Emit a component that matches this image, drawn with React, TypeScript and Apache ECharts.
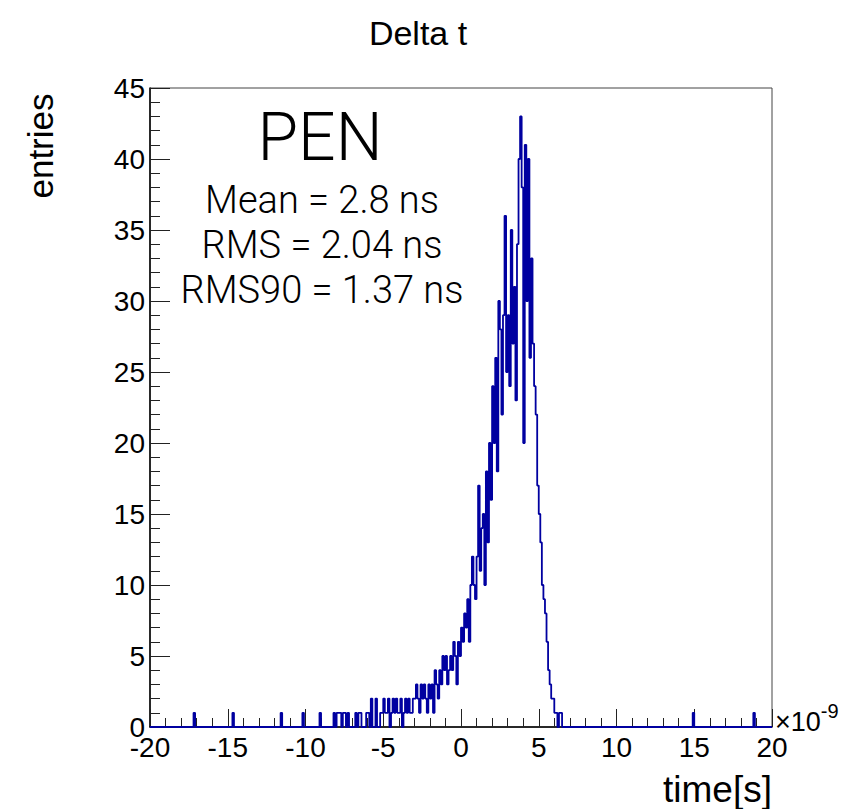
import React, { useEffect, useRef } from "react";
import * as echarts from "echarts";

const histMin = -20;
const histMax = 20;
const binWidth = 0.1;

// Counts per 0.1 ns bin, starting at t = -8.0 ns (x 1e-9 s)
const coreStart = -8.0;
const coreCounts = [
  1, 1, 1, 0, 1, 1, 0, 1, 0, 0,
  0, 0, 1, 0, 1, 1, 0, 0, 0, 1,
  1, 0, 2, 0, 0, 2, 0, 0, 1, 1,
  2, 1, 1, 2, 0, 1, 2, 1, 2, 1,
  1, 2, 0, 1, 2, 1, 2, 1, 1, 2,
  2, 3, 2, 1, 3, 2, 3, 2, 1, 3,
  2, 3, 1, 4, 3, 2, 4, 3, 5, 4,
  5, 3, 4, 5, 4, 6, 5, 3, 6, 5,
  7, 6, 8, 7, 9, 6, 10, 12, 10, 9,
  12, 17, 11, 14, 15, 10, 18, 13, 20, 16,
  24, 20, 26, 18, 30, 28, 22, 29, 36, 25,
  29, 24, 35, 27, 31, 23, 34, 40, 43, 38,
  20, 41, 30, 40, 26, 33, 27, 24, 22, 17,
  15, 13, 10, 9, 8, 6, 4, 3, 2, 2,
  1, 1, 0, 1, 1, 0, 0, 0, 0, 0,
];
// Isolated single entries outside the core region
const outlierTimes = [-17.2, -14.7, -11.6, -10.2, -9.1, -8.2, 14.9, 18.8];

const xTicks = [-20, -15, -10, -5, 0, 5, 10, 15, 20];
const yTicks = [0, 5, 10, 15, 20, 25, 30, 35, 40, 45];

const titleText = "Delta t";
const sampleName = "PEN";
const statLines = ["Mean = 2.8 ns", "RMS = 2.04 ns", "RMS90 = 1.37 ns"];

function buildHist(): number[][] {
  const n = Math.round((histMax - histMin) / binWidth);
  const counts = new Array(n).fill(0);
  const s = Math.round((coreStart - histMin) / binWidth);
  coreCounts.forEach((c, i) => {
    counts[s + i] += c;
  });
  outlierTimes.forEach((t) => {
    counts[Math.round((t - histMin) / binWidth)] += 1;
  });
  const pts: number[][] = [];
  for (let i = 0; i < n; i++) {
    pts.push([+(histMin + i * binWidth).toFixed(2), counts[i]]);
  }
  pts.push([histMax, counts[n - 1]]);
  return pts;
}

export default function App() {
  const ref = useRef<HTMLDivElement>(null);
  useEffect(() => {
    if (!ref.current) return;
    const chart = echarts.init(ref.current, undefined, { renderer: "svg" });
    const font = "'Liberation Sans', Helvetica, Arial, sans-serif";
    const light = "Roboto, 'Liberation Sans', sans-serif";
    chart.setOption({
      animation: false,
      backgroundColor: "#ffffff",
      grid: {
        left: 150,
        right: 92,
        top: 88,
        bottom: 82,
        show: true,
        borderColor: "#444",
        borderWidth: 1,
        backgroundColor: "transparent",
      },
      xAxis: {
        type: "value",
        min: xTicks[0],
        max: xTicks[xTicks.length - 1],
        interval: 5,
        axisLine: { show: true, onZero: false, lineStyle: { color: "#000", width: 1.5 } },
        axisTick: { show: true, inside: true, length: 18, lineStyle: { color: "#222", width: 1 } },
        minorTick: { show: true, splitNumber: 5, length: 9, lineStyle: { color: "#222", width: 1 } },
        splitLine: { show: false },
        axisLabel: {
          fontSize: 28,
          fontFamily: font,
          color: "#000",
          margin: 6,
          formatter: (v: number) => String(v),
        },
      },
      yAxis: {
        type: "value",
        min: yTicks[0],
        max: yTicks[yTicks.length - 1],
        interval: 5,
        axisLine: { show: true, onZero: false, lineStyle: { color: "#000", width: 1.5 } },
        axisTick: { show: true, inside: true, length: 20, lineStyle: { color: "#222", width: 1 } },
        minorTick: { show: true, splitNumber: 5, length: 10, lineStyle: { color: "#222", width: 1 } },
        splitLine: { show: false },
        axisLabel: {
          fontSize: 28,
          fontFamily: font,
          color: "#000",
          margin: 5,
        },
      },
      series: [
        {
          type: "line",
          step: "end",
          data: buildHist(),
          symbol: "none",
          lineStyle: { color: "#0000a0", width: 1.8 },
          clip: true,
          z: 3,
        },
      ],
      graphic: [
        {
          type: "text",
          x: 418,
          y: 33,
          style: {
            text: titleText,
            fontSize: 34,
            fontFamily: font,
            fill: "#000",
            align: "center",
            verticalAlign: "middle",
          },
        },
        {
          type: "text",
          x: 40,
          y: 146,
          rotation: Math.PI / 2,
          style: {
            text: "entries",
            fontSize: 35,
            fontFamily: font,
            fill: "#000",
            align: "center",
            verticalAlign: "middle",
          },
        },
        {
          type: "text",
          x: 772,
          y: 789,
          style: {
            text: "time[s]",
            fontSize: 37,
            fontFamily: font,
            fill: "#000",
            align: "right",
            verticalAlign: "middle",
          },
        },
        {
          type: "text",
          x: 775,
          y: 718,
          style: {
            text: "{a|×10}{b|-9}",
            fontFamily: font,
            fill: "#000",
            align: "left",
            verticalAlign: "middle",
            rich: {
              a: { fontSize: 27, fontFamily: font, fill: "#000", verticalAlign: "bottom" },
              b: { fontSize: 20, fontFamily: font, fill: "#000", verticalAlign: "top", padding: [0, 0, 14, 0] },
            },
          },
        },
        {
          type: "text",
          x: 320,
          y: 137,
          style: {
            text: sampleName,
            fontSize: 66,
            fontWeight: 300,
            fontFamily: light,
            fill: "#000",
            align: "center",
            verticalAlign: "middle",
          },
        },
        ...statLines.map((s, i) => ({
          type: "text",
          x: 322,
          y: 200 + i * 45,
          style: {
            text: s,
            fontSize: 38,
            fontWeight: 300,
            fontFamily: light,
            fill: "#000",
            align: "center",
            verticalAlign: "middle",
          },
        })),
      ],
    });
    return () => chart.dispose();
  }, []);
  return (
    <div
      ref={ref}
      style={{ position: "fixed", left: 0, top: 0, width: 864, height: 809, background: "#fff" }}
    />
  );
}
